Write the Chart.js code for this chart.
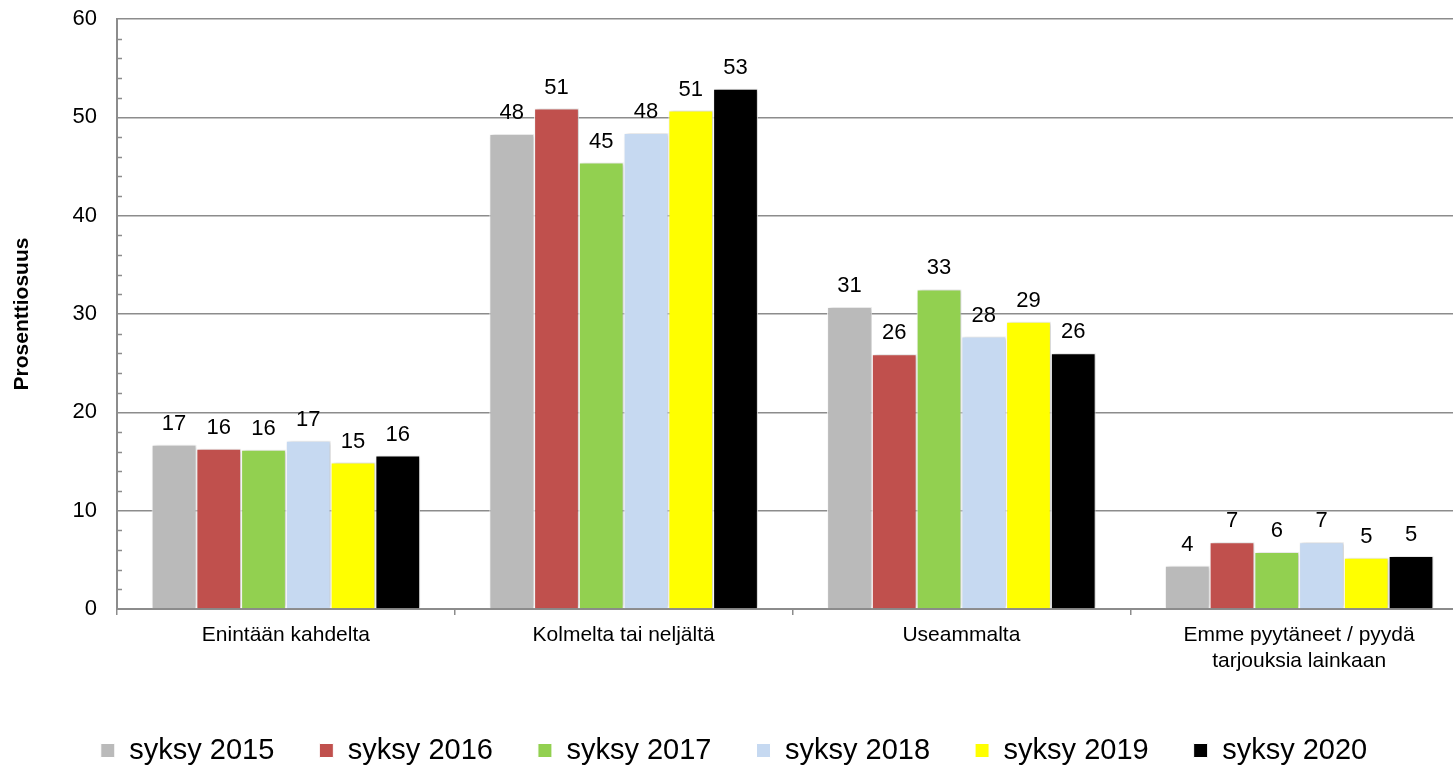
<!DOCTYPE html>
<html lang="fi">
<head>
<meta charset="UTF-8" />
<title>Tarjouspyynnöt</title>
<script src="https://cdn.jsdelivr.net/npm/chart.js@4.4.1/dist/chart.umd.min.js"></script>
<style>
    * { margin: 0; padding: 0; box-sizing: border-box; }
    body { background: #ffffff; overflow: hidden; width: 1453px; height: 766px; }
    /* a bit wider and taller than the window: the plot runs past the right edge */
    .wrap { position: relative; width: 1476px; height: 775px; }
</style>
</head>
<body>
<div class="wrap">
    <canvas id="chart"></canvas>
</div>
<script>
    const categories = [
        "Enintään kahdelta",
        "Kolmelta tai neljältä",
        "Useammalta",
        ["Emme pyytäneet / pyydä", "tarjouksia lainkaan"]
    ];
    const seriesNames = ["syksy 2015", "syksy 2016", "syksy 2017", "syksy 2018", "syksy 2019", "syksy 2020"];
    const s2015 = [16.7, 48.3, 30.7, 4.4];
    const s2016 = [16.3, 50.9, 25.9, 6.8];
    const s2017 = [16.2, 45.4, 32.5, 5.8];
    const s2018 = [17.1, 48.4, 27.7, 6.8];
    const s2019 = [14.9, 50.7, 29.2, 5.2];
    const s2020 = [15.6, 52.9, 26.0, 5.4];
    const yTicks = [0, 10, 20, 30, 40, 50, 60];

    const allSeries = [s2015, s2016, s2017, s2018, s2019, s2020];
    const colors = ["#bababa", "#c0504d", "#92d050", "#c6d9f1", "#ffff00", "#000000"];
    const FONT = "'Liberation Sans', Arial, sans-serif";

    // value labels above the bars
    const valueLabels = {
        id: "valueLabels",
        afterDatasetsDraw(chart) {
            const ctx = chart.ctx;
            ctx.save();
            ctx.font = "22px " + FONT;
            ctx.fillStyle = "#000";
            ctx.textAlign = "center";
            ctx.textBaseline = "middle";
            chart.data.datasets.forEach((ds, i) => {
                chart.getDatasetMeta(i).data.forEach((bar, j) => {
                    ctx.fillText(Math.round(ds.data[j]), bar.x, bar.y - 21);
                });
            });
            ctx.restore();
        }
    };

    // soft shadow behind bars
    const barShadow = {
        id: "barShadow",
        beforeDatasetDraw(chart) {
            const ctx = chart.ctx;
            ctx.save();
            ctx.shadowColor = "rgba(0,0,0,0.22)";
            ctx.shadowBlur = 4;
            ctx.shadowOffsetX = 2;
            ctx.shadowOffsetY = 0;
        },
        afterDatasetDraw(chart) {
            chart.ctx.restore();
        }
    };

    // small inward minor ticks on the y axis
    const minorTicks = {
        id: "minorTicks",
        afterDraw(chart) {
            const y = chart.scales.y;
            const ctx = chart.ctx;
            const left = chart.chartArea.left;
            ctx.save();
            ctx.strokeStyle = "#8c8c8c";
            ctx.lineWidth = 1.5;
            for (let v = 2; v < 60; v += 2) {
                if (v % 10 === 0) continue;
                const p = Math.round(y.getPixelForValue(v)) + 0.5;
                ctx.beginPath();
                ctx.moveTo(left, p);
                ctx.lineTo(left + 5, p);
                ctx.stroke();
            }
            ctx.restore();
        }
    };

    new Chart(document.getElementById("chart"), {
        type: "bar",
        data: {
            labels: categories,
            datasets: allSeries.map((d, i) => ({
                label: seriesNames[i],
                data: d,
                backgroundColor: colors[i],
                borderColor: "#ffffff",
                borderWidth: 1,
                borderSkipped: "bottom",
                categoryPercentage: 0.795,
                barPercentage: 1.0
            }))
        },
        options: {
            responsive: true,
            maintainAspectRatio: false,
            animation: false,
            layout: { padding: { top: 19, right: 8, left: 0, bottom: 0 } },
            plugins: {
                tooltip: { enabled: false },
                legend: {
                    position: "bottom",
                    labels: {
                        font: { family: FONT, size: 29 },
                        color: "#000",
                        boxWidth: 14,
                        boxHeight: 14,
                        padding: 45,
                        useBorderRadius: false
                    }
                }
            },
            scales: {
                x: {
                    grid: {
                        display: true,
                        offset: true,
                        drawOnChartArea: false,
                        drawTicks: true,
                        tickLength: 6,
                        color: "#8c8c8c",
                        lineWidth: 1.5
                    },
                    border: { display: true, color: "#8c8c8c", width: 2 },
                    ticks: {
                        font: { family: FONT, size: 21, lineHeight: 1.25 },
                        color: "#000",
                        padding: 7,
                        maxRotation: 0
                    },
                    afterFit(scale) { scale.height = 82; }
                },
                y: {
                    min: 0,
                    max: 60,
                    afterBuildTicks(scale) { scale.ticks = yTicks.map(v => ({ value: v })); },
                    grid: {
                        color: "#8c8c8c",
                        lineWidth: 1.5,
                        drawTicks: false
                    },
                    border: { display: true, color: "#8c8c8c", width: 2 },
                    ticks: {
                        font: { family: FONT, size: 22 },
                        color: "#000",
                        padding: 20
                    },
                    title: {
                        display: true,
                        text: "Prosenttiosuus",
                        font: { family: FONT, size: 21, weight: "bold" },
                        color: "#000",
                        padding: { top: 10, bottom: 0 }
                    },
                    afterFit(scale) {
                        scale.width = 117;
                        scale.paddingTop = 6;
                    }
                }
            }
        },
        plugins: [valueLabels, barShadow, minorTicks]
    });
</script>
</body>
</html>
